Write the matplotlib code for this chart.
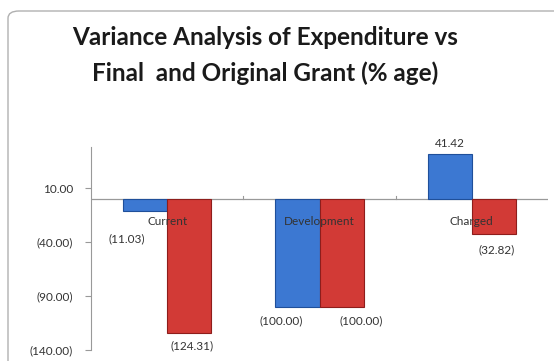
import numpy as np
import matplotlib.pyplot as plt
from matplotlib.patches import FancyBboxPatch

# Data
categories = ["Current", "Development", "Charged"]
final_grant = [-11.03, -100.00, 41.42]      # blue series
original_grant = [-124.31, -100.00, -32.82]  # red series
yticks = [10, -40, -90, -140]

def fmt(v):
    return "(%.2f)" % abs(v) if v < 0 else "%.2f" % v

plt.rcParams['font.family'] = ['Lato', 'DejaVu Sans']

fig = plt.figure(figsize=(5.54, 3.61), dpi=100)

# chart border (cropped on right / bottom)
border = FancyBboxPatch((8 / 554, -0.1), 1.2, (361 - 11) / 361 + 0.1,
                        boxstyle="round,pad=0,rounding_size=0.02",
                        transform=fig.transFigure, fill=False,
                        edgecolor="#b0b0b0", linewidth=1.0)
fig.patches.append(border)

fig.text(0.478, 0.895, "Variance Analysis of Expenditure vs", ha="center",
         va="center", fontsize=17.5, fontweight="bold", color="#1a1a1a")
fig.text(0.478, 0.797, "Final  and Original Grant (% age)", ha="center",
         va="center", fontsize=17.5, fontweight="bold", color="#1a1a1a")

ax = fig.add_axes([91 / 554, 11 / 361, (548 - 91) / 554, (350 - 147) / 361])

x = np.arange(len(categories))
w = 0.29
b1 = ax.bar(x - w / 2, final_grant, w, color="#3c78d2", edgecolor="#1f4f9a",
            linewidth=0.8, zorder=2)
b2 = ax.bar(x + w / 2, original_grant, w, color="#d23a36", edgecolor="#8e1d1b",
            linewidth=0.8, zorder=2)

ax.set_xlim(-0.5, 2.5)
ax.set_ylim(-140, 48)
ax.set_yticks(yticks)
ax.set_yticklabels([fmt(v) for v in yticks], fontsize=8.5, color="#333333")
ax.tick_params(axis="y", length=4, color="#999999", pad=9)
ax.set_xticks([])

for s in ["top", "right", "bottom"]:
    ax.spines[s].set_visible(False)
ax.spines["left"].set_color("#999999")
ax.axhline(0, color="#999999", linewidth=0.9, zorder=1)
for bx in [0.5, 1.5]:
    ax.plot([bx, bx], [0, 2.5], color="#999999", linewidth=0.8, zorder=1)

# category labels just below the zero line
for xi, c in zip(x, categories):
    ax.annotate(c, (xi, 0), xytext=(0, -16), textcoords="offset points",
                ha="center", va="center", fontsize=8.5, color="#333333", zorder=3)

# data labels
blue_off = [(-13, -16), (-12, -6), (0, 4)]
red_off = [(2, -5), (14, -6), (2, -7)]
for rect, v, off in zip(b1, final_grant, blue_off):
    cx = rect.get_x() + rect.get_width() / 2
    ax.annotate(fmt(v), (cx, v), xytext=off, textcoords="offset points",
                ha="center", va="top" if v < 0 else "bottom",
                fontsize=8.5, color="#333333")
for rect, v, off in zip(b2, original_grant, red_off):
    cx = rect.get_x() + rect.get_width() / 2
    ax.annotate(fmt(v), (cx, v), xytext=off, textcoords="offset points",
                ha="center", va="top" if v < 0 else "bottom",
                fontsize=8.5, color="#333333")

fig.savefig("out.png", dpi=100)
